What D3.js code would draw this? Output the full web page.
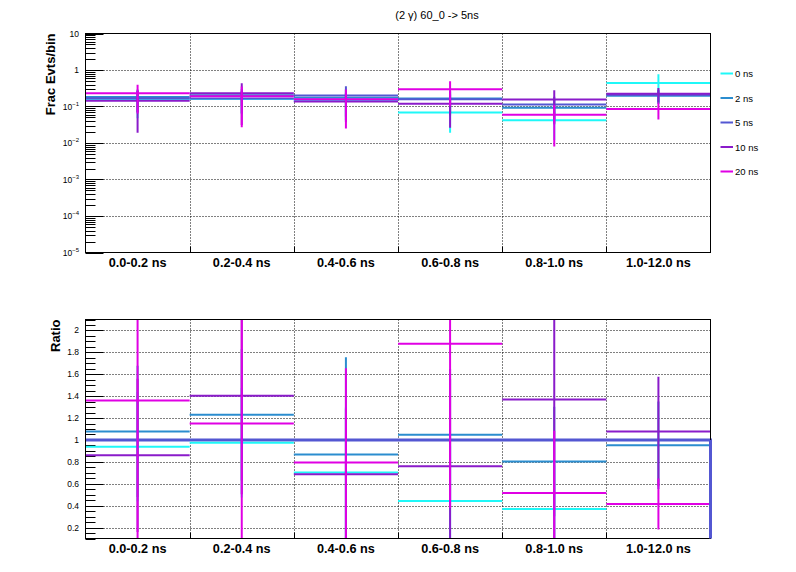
<!DOCTYPE html>
<html>
<head>
<meta charset="utf-8">
<script src="https://cdn.jsdelivr.net/npm/d3@7"></script>
<style>
  html, body { margin: 0; padding: 0; background: #fff; }
  svg { display: block; font-family: "Liberation Sans", Arial, Helvetica, sans-serif; }
</style>
</head>
<body>
<svg id="chart" width="796" height="572"></svg>
<script>
// ---------------- data ----------------
const bins = ["0.0-0.2 ns", "0.2-0.4 ns", "0.4-0.6 ns", "0.6-0.8 ns", "0.8-1.0 ns", "1.0-12.0 ns"];
const seriesNames = ["0 ns", "2 ns", "5 ns", "10 ns", "20 ns"];
const titleText = "(2 \u03b3) 60_0 -> 5ns";

// fraction of events per bin (top panel)
const frac0  = [0.158, 0.161, 0.141, 0.069, 0.042, 0.44];
const frac2  = [0.181, 0.203, 0.173, 0.165, 0.092, 0.198];
const frac5  = [0.168, 0.165, 0.200, 0.157, 0.114, 0.208];
const frac10 = [0.144, 0.231, 0.137, 0.119, 0.156, 0.225];
const frac20 = [0.229, 0.190, 0.159, 0.295, 0.059, 0.086];
const fracErr0  = [0.11, 0.10, 0.10, 0.050, 0.030, 0.32];
const fracErr2  = [0.11, 0.10, 0.12, 0.10, 0.060, 0.08];
const fracErr5  = [0.10, 0.10, 0.157, 0.10, 0.070, 0.08];
const fracErr10 = [0.125, 0.20, 0.10, 0.093, 0.122, 0.096];
const fracErr20 = [0.165, 0.163, 0.134, 0.194, 0.051, 0.042];

// ratio to the 5 ns sample (bottom panel)
const ratio0  = [0.939, 0.975, 0.703, 0.442, 0.369, 2.12];
const ratio2  = [1.078, 1.230, 0.866, 1.048, 0.803, 0.951];
const ratio5  = [1, 1, 1, 1, 1, 1];
const ratio10 = [0.860, 1.403, 0.687, 0.760, 1.369, 1.078];
const ratio20 = [1.360, 1.151, 0.794, 1.878, 0.515, 0.415];
const ratioErr0  = [0.5, 0.5, 0.6, 0.5, 0.4, 0.0];
const ratioErr2  = [0.6, 0.6, 0.89, 0.6, 0.5, 0.4];
const ratioErr10 = [0.7, 0.9, 0.6, 0.8, 1.4, 0.5];
const ratioErr20 = [1.5, 1.2, 0.86, 1.5, 0.57, 0.233];

const topTickValues = [1e-5, 1e-4, 1e-3, 1e-2, 1e-1, 1, 10];
const topTickLabels = [["10", "\u22125"], ["10", "\u22124"], ["10", "\u22123"], ["10", "\u22122"], ["10", "\u22121"], ["1", ""], ["10", ""]];
const ratioTickValues = [0.2, 0.4, 0.6, 0.8, 1, 1.2, 1.4, 1.6, 1.8, 2];
const ratioTickLabels = ["0.2", "0.4", "0.6", "0.8", "1", "1.2", "1.4", "1.6", "1.8", "2"];

// ---------------- styles ----------------
const colors = ["#1ff8f8", "#2b8dcf", "#5357d2", "#8a1bca", "#e000e4"];

// ---------------- layout ----------------
const svg = d3.select("#chart");
const X0 = 85.5, X1 = 710.5;
const topY0 = 33.5, topY1 = 252.5;
const botY0 = 319.5, botY1 = 538.5;

const x = d3.scaleBand().domain(bins).range([X0, X1]).padding(0);
const yTop = d3.scaleLog().domain([1e-5, 10]).range([topY1, topY0]);
const yBot = d3.scaleLinear().domain([0.1, 2.1]).range([botY1, botY0]);

const defs = svg.append("defs");
defs.append("clipPath").attr("id", "clipTop").append("rect")
  .attr("x", X0).attr("y", topY0).attr("width", X1 - X0).attr("height", topY1 - topY0);
defs.append("clipPath").attr("id", "clipBot").append("rect")
  .attr("x", X0).attr("y", botY0).attr("width", X1 - X0 + 2).attr("height", botY1 - botY0);

// title
svg.append("text").attr("x", 437).attr("y", 18.5).attr("text-anchor", "middle")
  .attr("font-size", 11).attr("fill", "#000").text(titleText);

function drawGrid(y, gridVals, yA, yB) {
  const g = svg.append("g").attr("stroke", "#000").attr("stroke-width", 1)
    .attr("stroke-dasharray", "1,2").attr("fill", "none");
  gridVals.forEach(v => {
    const yy = Math.round(y(v)) + 0.5;
    g.append("line").attr("x1", X0).attr("x2", X1).attr("y1", yy).attr("y2", yy);
  });
  bins.slice(1).forEach(b => {
    const xx = Math.round(x(b)) + 0.5;
    g.append("line").attr("x1", xx).attr("x2", xx).attr("y1", yA).attr("y2", yB);
  });
}

function drawXAxis(yB) {
  const g = svg.append("g");
  bins.slice(1).forEach(b => {
    const xx = Math.round(x(b)) + 0.5;
    g.append("line").attr("x1", xx).attr("x2", xx).attr("y1", yB - 6).attr("y2", yB)
      .attr("stroke", "#000").attr("stroke-width", 1);
  });
  bins.forEach(b => {
    g.append("text").attr("x", x(b) + x.bandwidth() / 2).attr("y", yB + 14.5)
      .attr("text-anchor", "middle").attr("font-size", 12.7).attr("font-weight", "bold")
      .attr("fill", "#000").text(b);
  });
}

function drawSeries(y, clipId, vals, errs, color, domain) {
  const g = svg.append("g").attr("clip-path", `url(#${clipId})`)
    .attr("stroke", color).attr("stroke-width", 2).attr("fill", "none");
  bins.forEach((b, i) => {
    const v = vals[i];
    if (v < domain[0] || v > domain[1]) return;
    const yy = y(v);
    g.append("line").attr("x1", x(b)).attr("x2", x(b) + x.bandwidth()).attr("y1", yy).attr("y2", yy);
    const e = errs[i];
    if (e > 0) {
      const lo = Math.max(v - e, domain[0] * 0.5);
      const cx = x(b) + x.bandwidth() / 2;
      g.append("line").attr("x1", cx).attr("x2", cx)
        .attr("y1", y(v + e)).attr("y2", y(lo > 0 ? lo : domain[0] * 0.5));
    }
  });
}

// ================= TOP PANEL =================
drawGrid(yTop, [1e-4, 1e-3, 1e-2, 1e-1, 1], topY0, topY1);

// y axis ticks (log)
{
  const g = svg.append("g").attr("stroke", "#000").attr("stroke-width", 1);
  for (let e = -5; e < 1; e++) {
    for (let m = 2; m <= 9; m++) {
      const yy = Math.round(yTop(m * Math.pow(10, e))) + 0.5;
      g.append("line").attr("x1", X0).attr("x2", X0 + 10).attr("y1", yy).attr("y2", yy);
    }
  }
  topTickValues.forEach(v => {
    const yy = Math.round(yTop(v)) + 0.5;
    g.append("line").attr("x1", X0).attr("x2", X0 + 18).attr("y1", yy).attr("y2", yy);
  });
  const lg = svg.append("g").attr("font-size", 8.5).attr("fill", "#000");
  topTickValues.forEach((v, i) => {
    const [base, sup] = topTickLabels[i];
    const t = lg.append("text").attr("x", 79).attr("y", yTop(v) + 3).attr("text-anchor", "end");
    t.append("tspan").text(base);
    if (sup) t.append("tspan").attr("font-size", 6).attr("dy", -4).text(sup);
  });
}

const topVals = [frac0, frac2, frac5, frac10, frac20];
const topErrs = [fracErr0, fracErr2, fracErr5, fracErr10, fracErr20];
topVals.forEach((vals, k) => drawSeries(yTop, "clipTop", vals, topErrs[k], colors[k], [1e-5, 10]));

svg.append("rect").attr("x", X0).attr("y", topY0).attr("width", X1 - X0).attr("height", topY1 - topY0)
  .attr("fill", "none").attr("stroke", "#000").attr("stroke-width", 1);

drawXAxis(topY1);

svg.append("text").attr("transform", `translate(55,${topY0}) rotate(-90)`)
  .attr("text-anchor", "end").attr("font-size", 13).attr("font-weight", "bold")
  .attr("fill", "#000").text("Frac Evts/bin");

// legend
{
  const lg = svg.append("g");
  seriesNames.forEach((n, i) => {
    const yy = 73.5 + i * 24.5;
    lg.append("line").attr("x1", 720.5).attr("x2", 733).attr("y1", yy).attr("y2", yy)
      .attr("stroke", colors[i]).attr("stroke-width", 2);
    lg.append("text").attr("x", 735).attr("y", yy + 3.5).attr("font-size", 9.5)
      .attr("fill", "#000").text(n);
  });
}

// ================= BOTTOM PANEL =================
drawGrid(yBot, ratioTickValues, botY0, botY1);

{
  const g = svg.append("g").attr("stroke", "#000").attr("stroke-width", 1);
  for (let k = 0; k <= 40; k++) {
    const v = 0.1 + k * 0.05;
    if (v > 2.1001) break;
    const yy = Math.round(yBot(v)) + 0.5;
    g.append("line").attr("x1", X0).attr("x2", X0 + 10).attr("y1", yy).attr("y2", yy);
  }
  ratioTickValues.forEach(v => {
    const yy = Math.round(yBot(v)) + 0.5;
    g.append("line").attr("x1", X0).attr("x2", X0 + 18).attr("y1", yy).attr("y2", yy);
  });
  const lg = svg.append("g").attr("font-size", 8.5).attr("fill", "#000");
  ratioTickValues.forEach((v, i) => {
    lg.append("text").attr("x", 79).attr("y", yBot(v) + 3).attr("text-anchor", "end").text(ratioTickLabels[i]);
  });
}

// reference (5 ns) drawn as histogram outline
{
  const pts = [];
  bins.forEach((b, i) => {
    pts.push([x(b), yBot(ratio5[i])]);
    pts.push([x(b) + x.bandwidth(), yBot(ratio5[i])]);
  });
  pts.push([X1, botY1]);
  svg.append("path").attr("clip-path", "url(#clipBot)")
    .attr("d", d3.line()(pts)).attr("fill", "none")
    .attr("stroke", colors[2]).attr("stroke-width", 3);
}

const botVals = [ratio0, ratio2, ratio10, ratio20];
const botErrs = [ratioErr0, ratioErr2, ratioErr10, ratioErr20];
const botColors = [colors[0], colors[1], colors[3], colors[4]];
botVals.forEach((vals, k) => drawSeries(yBot, "clipBot", vals, botErrs[k], botColors[k], [0.1, 2.1]));

svg.append("rect").attr("x", X0).attr("y", botY0).attr("width", X1 - X0).attr("height", botY1 - botY0)
  .attr("fill", "none").attr("stroke", "#000").attr("stroke-width", 1);
// redraw the reference drop on the right edge above the frame
svg.append("line").attr("x1", X1).attr("x2", X1).attr("y1", yBot(1)).attr("y2", botY1)
  .attr("stroke", colors[2]).attr("stroke-width", 3);

drawXAxis(botY1);

svg.append("text").attr("transform", `translate(60,${botY0}) rotate(-90)`)
  .attr("text-anchor", "end").attr("font-size", 13).attr("font-weight", "bold")
  .attr("fill", "#000").text("Ratio");
</script>
</body>
</html>
